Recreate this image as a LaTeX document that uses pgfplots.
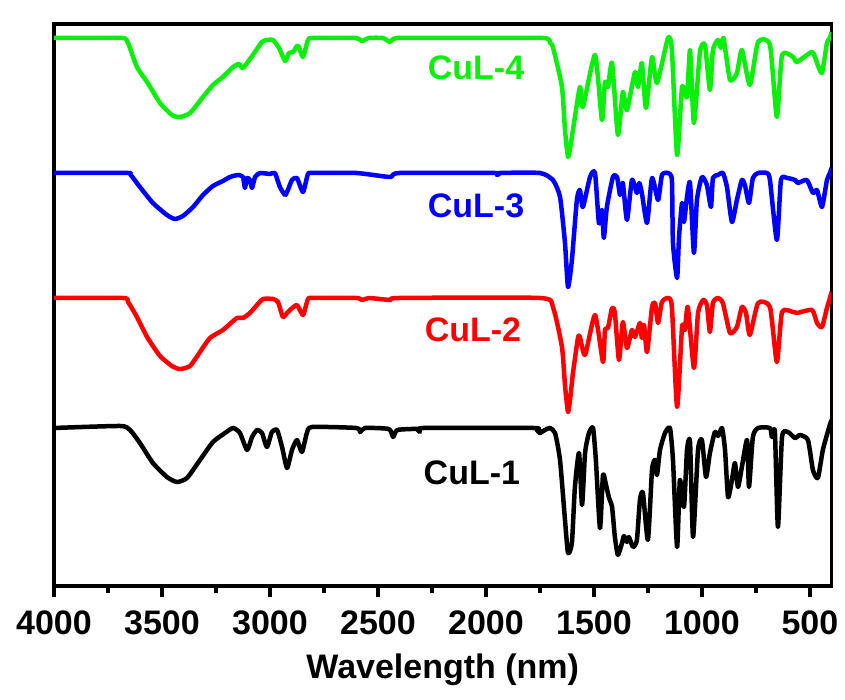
\documentclass[border=0pt]{standalone}
\usepackage{fontspec}
\setmainfont{Liberation Sans}
\usepackage{pgfplots}
\pgfplotsset{compat=1.18}
\definecolor{cgreen}{RGB}{10,240,10}
\definecolor{cblue}{RGB}{0,0,255}
\definecolor{cred}{RGB}{255,0,0}
\newcommand{\bigfont}{\fontsize{34}{40}\selectfont\bfseries}

\begin{document}
\begin{tikzpicture}
\begin{axis}[
  scale only axis,
  width=777.5pt, height=562pt,
  xmin=400, xmax=4000, x dir=reverse,
  ymin=0, ymax=562,
  xtick={500,1000,...,4000},
  minor x tick num=1,
  ytick=\empty,
  xtick pos=left,
  tick align=outside,
  major tick length=11pt,
  minor tick length=7pt,
  every tick/.style={line width=3.5pt,black},
  axis line style={line width=3.5pt},
  tick label style={font=\bigfont},
  xticklabel style={yshift=-10pt},
  /pgf/number format/assume math mode=true,
  /pgf/number format/set thousands separator={},
  xlabel={Wavelength (nm)},
  xlabel style={font=\bigfont,at={(axis description cs:0.5,0)},anchor=north,yshift=-64pt},
  every axis plot/.append style={line width=4.5pt,line join=round,no markers,smooth,tension=0.35},
]
% CuL-1
\addplot[black] coordinates {
(4000,158)(3694,160)(3648,156)(3602,143)(3542,123)(3477,109)(3431,104)(3384,108)
(3324,126)(3264,144)(3208,153)(3171,158)(3139,153)(3106,136)(3083,149)(3060,156)
(3037,153)(3014,139)(2991,154)(2967,156)(2944,139)(2921,118)(2898,136)(2875,146)
(2852,134)(2829,153)(2805,159)(2600,158)(2583,154)(2560,158)(2450,157)(2430,149)
(2410,156)(2320,157)(2305,154)(2290,158)(1780,158)(1764,156)(1750,153)(1727,156)
(1704,158)(1680,153)(1657,126)(1634,66)(1620,33)(1602,43)(1588,99)(1569,133)
(1555,81)(1541,133)(1523,153)(1504,158)(1491,126)(1472,58)(1458,111)(1444,101)
(1430,88)(1416,79)(1403,49)(1389,31)(1370,43)(1361,50)(1347,44)(1338,49)
(1319,39)(1301,46)(1287,86)(1273,93)(1250,46)(1231,116)(1217,126)(1208,111)
(1194,136)(1171,153)(1148,158)(1134,126)(1115,39)(1102,106)(1083,79)(1069,136)
(1055,144)(1041,49)(1018,136)(1000,146)(981,109)(963,133)(940,154)(925,150)
(907,158)(893,136)(879,89)(861,106)(847,123)(833,99)(815,119)(791,146)
(782,99)(764,149)(740,158)(685,158)(676,149)(662,154)(648,59)(629,149)
(602,154)(569,148)(546,151)(509,146)(486,116)(463,108)(440,136)(412,158)(400,166)
};
% CuL-2
\addplot[cred] coordinates {
(4000,288)(3681,288)(3657,284)(3616,269)(3569,249)(3509,230)(3454,220)(3417,217)
(3370,220)(3324,234)(3278,248)(3218,256)(3153,268)(3125,268)(3093,273)(3060,281)
(3032,287)(2986,287)(2963,284)(2940,269)(2921,273)(2907,276)(2875,281)(2847,271)
(2824,287)(2801,288)(2600,288)(2574,286)(2540,288)(2444,286)(2400,288)(1750,288)
(1690,279)(1648,239)(1634,201)(1620,174)(1608,191)(1597,213)(1574,248)(1565,249)
(1541,231)(1495,271)(1458,224)(1449,256)(1435,258)(1416,278)(1403,273)(1384,226)
(1366,264)(1347,238)(1324,256)(1310,249)(1287,263)(1278,248)(1268,261)(1254,234)
(1231,279)(1217,283)(1203,263)(1185,284)(1157,288)(1139,279)(1115,179)(1092,259)
(1079,256)(1065,279)(1037,218)(1018,273)(995,286)(977,281)(963,254)(949,283)
(926,288)(903,283)(870,253)(838,259)(815,279)(796,273)(778,251)(740,283)
(685,279)(653,224)(629,274)(578,274)(560,273)(490,276)(467,263)(444,259)
(421,278)(407,288)(400,294)
};
% CuL-3
\addplot[cblue] coordinates {
(4000,413)(3662,413)(3648,412)(3602,399)(3542,383)(3477,371)(3440,367)(3403,370)
(3356,379)(3310,391)(3264,400)(3218,405)(3185,409)(3148,411)(3125,409)(3116,398)
(3106,408)(3093,406)(3083,398)(3069,409)(3046,413)(3000,412)(2977,413)(2954,399)
(2930,391)(2917,396)(2898,406)(2875,408)(2847,394)(2824,412)(2801,413)(2600,413)
(2444,409)(2400,413)(1960,413)(1949,411)(1935,413)(1750,413)(1690,406)(1657,389)
(1634,343)(1620,299)(1602,326)(1579,386)(1565,396)(1551,379)(1518,409)(1495,413)
(1477,363)(1463,376)(1454,348)(1440,379)(1412,409)(1393,409)(1379,391)(1366,403)
(1347,366)(1324,406)(1301,393)(1290,403)(1278,393)(1254,363)(1231,408)(1203,386)
(1185,411)(1157,413)(1139,406)(1134,343)(1115,308)(1106,349)(1092,383)(1083,364)
(1069,389)(1055,403)(1037,333)(1023,386)(1000,409)(977,401)(958,379)(949,408)
(926,411)(903,413)(884,399)(861,364)(838,386)(815,406)(801,401)(782,383)
(764,408)(740,413)(699,413)(685,406)(653,346)(634,406)(606,408)(569,406)
(555,403)(514,406)(486,393)(467,396)(444,379)(421,406)(407,413)(400,418)
};
% CuL-4
\addplot[cgreen] coordinates {
(4000,548)(3833,548)(3681,548)(3657,543)(3616,519)(3569,504)(3509,483)(3454,471)
(3417,469)(3370,473)(3310,489)(3264,501)(3218,509)(3171,519)(3143,522)(3125,518)
(3079,531)(3037,544)(3014,546)(2986,546)(2958,538)(2930,525)(2912,533)(2893,534)
(2875,540)(2866,539)(2847,529)(2824,546)(2801,548)(2606,548)(2574,545)(2542,548)
(2477,548)(2444,544)(2412,548)(2167,548)(1736,548)(1704,543)(1690,539)(1648,499)
(1634,456)(1620,429)(1608,441)(1597,456)(1565,499)(1551,479)(1495,531)(1463,466)
(1449,504)(1435,499)(1416,523)(1389,451)(1366,494)(1347,476)(1310,514)(1296,499)
(1278,523)(1259,478)(1231,529)(1208,503)(1157,548)(1139,536)(1115,431)(1092,499)
(1069,489)(1055,536)(1037,463)(1009,534)(986,541)(963,496)(949,536)(926,546)
(912,538)(900,548)(870,506)(838,513)(815,536)(778,501)(740,544)(685,541)
(653,469)(629,531)(578,529)(560,524)(490,534)(467,523)(444,513)(421,543)
(407,548)(400,554)
};
\node[font=\bigfont,text=cgreen] at (axis cs:2046,518) {CuL-4};
\node[font=\bigfont,text=cblue] at (axis cs:2046,380) {CuL-3};
\node[font=\bigfont,text=cred] at (axis cs:2060,256) {CuL-2};
\node[font=\bigfont,text=black] at (axis cs:2065,113) {CuL-1};
\coordinate (bl) at (rel axis cs:0,0);
\coordinate (tr) at (rel axis cs:1,1);
\end{axis}
\path ([xshift=-54pt,yshift=-114pt]bl) rectangle ([xshift=13.5pt,yshift=24pt]tr);
\end{tikzpicture}
\end{document}
